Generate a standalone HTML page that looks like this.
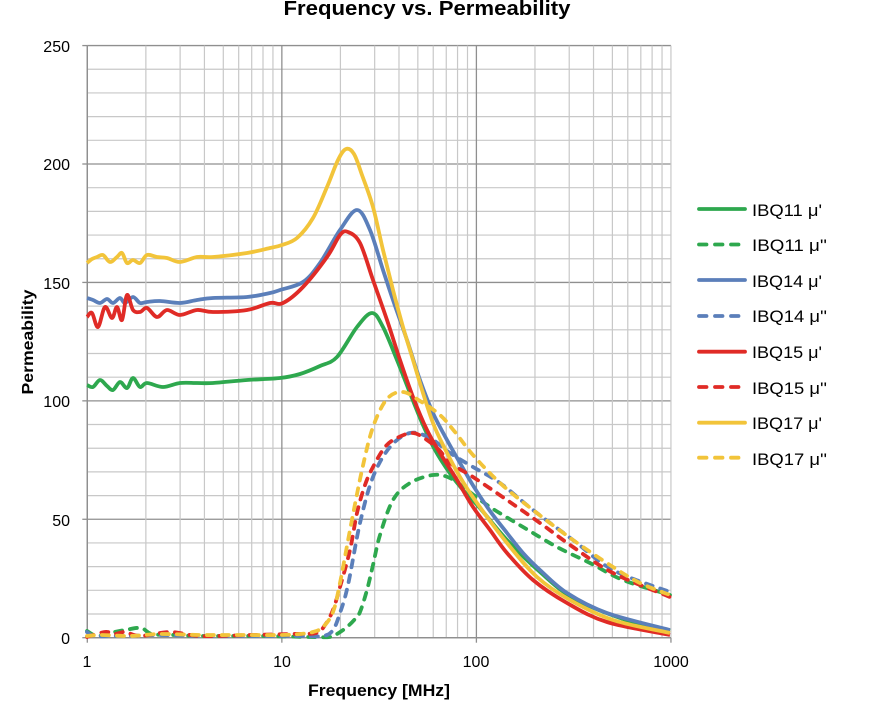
<!DOCTYPE html>
<html><head><meta charset="utf-8">
<style>
html,body{margin:0;padding:0;background:#fff;}
svg{display:block;}
text{font-family:"Liberation Sans",Arial,sans-serif;fill:#000;}
</style></head>
<body>
<svg id="c" width="878" height="705" viewBox="0 0 878 705" xmlns="http://www.w3.org/2000/svg">
<rect width="878" height="705" fill="#fff"/>
<g id="grid"></g>
<g id="series" fill="none" stroke-width="3.8" stroke-linejoin="round"></g>
<text x="427" y="15" text-anchor="middle" font-size="20" font-weight="bold" textLength="287" lengthAdjust="spacingAndGlyphs">Frequency vs. Permeability</text>
<g font-size="16" text-anchor="end">
<text x="70" y="52">250</text>
<text x="70" y="170">200</text>
<text x="70" y="289">150</text>
<text x="70" y="407">100</text>
<text x="70" y="526">50</text>
<text x="70" y="644">0</text>
</g>
<g font-size="16" text-anchor="middle">
<text x="87" y="667">1</text>
<text x="282" y="667">10</text>
<text x="476" y="667">100</text>
<text x="671" y="667">1000</text>
</g>
<text x="379" y="696" text-anchor="middle" font-size="17" font-weight="bold" textLength="142" lengthAdjust="spacingAndGlyphs">Frequency [MHz]</text>
<text transform="translate(33,342) rotate(-90)" text-anchor="middle" font-size="16" font-weight="bold" textLength="105" lengthAdjust="spacingAndGlyphs">Permeability</text>
<g id="legend" stroke-width="3.8" fill="none"></g>
<g font-size="17">
<text x="752" y="216" textLength="70" lengthAdjust="spacingAndGlyphs">IBQ11 μ'</text>
<text x="752" y="251" textLength="75" lengthAdjust="spacingAndGlyphs">IBQ11 μ''</text>
<text x="752" y="287" textLength="70" lengthAdjust="spacingAndGlyphs">IBQ14 μ'</text>
<text x="752" y="322" textLength="75" lengthAdjust="spacingAndGlyphs">IBQ14 μ''</text>
<text x="752" y="358" textLength="70" lengthAdjust="spacingAndGlyphs">IBQ15 μ'</text>
<text x="752" y="394" textLength="75" lengthAdjust="spacingAndGlyphs">IBQ15 μ''</text>
<text x="752" y="429" textLength="70" lengthAdjust="spacingAndGlyphs">IBQ17 μ'</text>
<text x="752" y="465" textLength="75" lengthAdjust="spacingAndGlyphs">IBQ17 μ''</text>
</g>
</svg>
<script>
(function(){
var NS="http://www.w3.org/2000/svg";
function X(f){return 87.3+194.55*Math.log10(f);}
function Y(v){return 637.7-2.3685*v;}
function el(parent,tag,attrs){var e=document.createElementNS(NS,tag);for(var k in attrs)e.setAttribute(k,attrs[k]);parent.appendChild(e);return e;}
var grid=document.getElementById('grid');
var L=X(1),R=X(1000);
for(var k=0;k<=25;k++){
  var y=Y(10*k), major=(k%5===0);
  el(grid,'line',{x1:L,x2:R,y1:y,y2:y,stroke:major?'#8f8f8f':'#c8c8c8','stroke-width':major?1.3:1.2});
}
for(var d=0;d<3;d++){
  for(var m=1;m<=9;m++){
    var x=X(m*Math.pow(10,d)), major=(m===1);
    el(grid,'line',{x1:x,x2:x,y1:Y(250),y2:Y(0),stroke:major?'#8f8f8f':'#c8c8c8','stroke-width':major?1.3:1.2});
  }
}
el(grid,'line',{x1:R,x2:R,y1:Y(250),y2:Y(0),stroke:'#c8c8c8','stroke-width':1.2});
el(grid,'line',{x1:L,x2:R,y1:Y(0),y2:Y(0),stroke:'#8f8f8f','stroke-width':1.4});
el(grid,'line',{x1:L,x2:L,y1:Y(250),y2:Y(0),stroke:'#8f8f8f','stroke-width':1.4});
for(var k=0;k<=5;k++){var y=Y(50*k);el(grid,'line',{x1:L-5,x2:L,y1:y,y2:y,stroke:'#8f8f8f','stroke-width':1.3});}
[1,10,100,1000].forEach(function(f){var x=X(f);el(grid,'line',{x1:x,x2:x,y1:Y(0),y2:Y(0)+5,stroke:'#8f8f8f','stroke-width':1.3});});

function path(p){
  var d='M'+p[0][0]+','+p[0][1];
  for(var i=0;i<p.length-1;i++){
    var p0=p[i-1]||p[i],p1=p[i],p2=p[i+1],p3=p[i+2]||p2,t=1/6;
    var c1x=p1[0]+(p2[0]-p0[0])*t,c1y=p1[1]+(p2[1]-p0[1])*t;
    var c2x=p2[0]-(p3[0]-p1[0])*t,c2y=p2[1]-(p3[1]-p1[1])*t;
    d+='C'+c1x.toFixed(2)+','+c1y.toFixed(2)+' '+c2x.toFixed(2)+','+c2y.toFixed(2)+' '+p2[0]+','+p2[1];
  }
  return d;
}
var G='#2ea84e',B='#5b7fba',Rd='#e02b26',Yl='#f2c43a';
var data=[
 [G,false,[[87,385],[93,387],[100,380],[107,386],[113,390],[120,382],[127,388],[133,378],[140,387],[147,383],[163,387],[180,383],[197,383],[213,383],[247,380],[280,378],[300,374],[320,366],[337,357],[357,327],[372,313],[383,327],[397,360],[410,393],[423,425],[435,450],[449,472],[463,490],[479,507],[507,540],[540,572],[573,598],[623,619],[670,631]]],
 [G,true,[[87,631],[97,636],[110,633],[125,630],[141,628],[152,634],[175,635],[200,636],[260,636],[310,637],[330,637],[337,634],[347,627],[355,619],[360,612],[367,590],[373,565],[380,535],[393,500],[410,483],[433,475],[450,478],[467,490],[490,507],[523,527],[557,547],[590,563],[623,580],[670,595]]],
 [B,false,[[87,298],[93,300],[100,303],[107,299],[113,303],[120,298],[125,303],[133,297],[140,303],[147,302],[160,301],[180,303],[197,300],[213,298],[247,297],[270,293],[280,290],[303,282],[320,263],[340,230],[357,210],[370,230],[383,270],[393,300],[407,340],[420,380],[433,413],[447,440],[460,463],[474,487],[490,511],[507,533],[523,553],[540,570],[567,593],[607,613],[670,630]]],
 [B,true,[[87,632],[95,636],[120,636],[160,635],[200,636],[260,636],[300,636],[323,636],[333,630],[340,613],[348,585],[360,523],[373,477],[390,447],[410,433],[430,438],[450,453],[473,467],[500,483],[533,510],[573,540],[613,570],[670,592]]],
 [Rd,false,[[87,317],[92,313],[98,327],[105,307],[112,318],[117,307],[122,320],[127,295],[133,310],[140,312],[147,308],[157,317],[167,310],[180,315],[197,310],[213,312],[247,310],[270,303],[283,303],[303,287],[327,257],[340,235],[348,232],[360,243],[373,280],[387,320],[400,360],[413,397],[427,430],[440,453],[457,480],[473,507],[490,530],[507,553],[533,580],[567,603],[607,622],[670,635]]],
 [Rd,true,[[87,637],[105,632],[115,634],[125,632],[140,636],[170,632],[200,636],[250,635],[290,634],[316,633],[325,625],[333,610],[340,587],[350,550],[357,513],[365,485],[373,467],[385,447],[397,438],[413,433],[427,440],[440,451],[450,463],[473,477],[507,500],[540,523],[573,547],[613,573],[670,597]]],
 [Yl,false,[[87,263],[92,259],[97,257],[103,255],[110,262],[117,257],[122,253],[127,263],[133,260],[140,263],[147,255],[157,257],[167,258],[180,262],[197,257],[213,257],[247,253],[270,248],[282,245],[297,238],[313,218],[327,187],[338,160],[346,149],[354,154],[362,175],[373,207],[383,250],[393,290],[403,327],[413,360],[423,393],[433,423],[443,445],[460,477],[477,503],[507,543],[537,577],[570,600],[613,620],[670,633]]],
 [Yl,true,[[87,636],[100,635],[130,636],[160,634],[200,635],[240,635],[280,635],[300,634],[313,632],[323,627],[333,612],[340,583],[350,530],[362,470],[373,427],[387,399],[403,392],[420,401],[440,415],[455,432],[473,455],[500,483],[533,510],[573,540],[613,567],[640,583],[670,595]]]
];
var ser=document.getElementById('series');
data.forEach(function(s){
  var a={d:path(s[2]),stroke:s[0]};
  if(s[1]){a['stroke-dasharray']='7 8';a['stroke-linecap']='round';}
  el(ser,'path',a);
});
var leg=document.getElementById('legend');
var rows=[209,244.5,280,316,351.7,387,422.7,457.7];
data.forEach(function(s,i){
  var a={x1:699,x2:745,y1:rows[i],y2:rows[i],stroke:s[0],'stroke-linecap':'round'};
  if(s[1]){a['stroke-dasharray']='7.5 8.5';}
  el(leg,'line',a);
});
})();
</script>
</body></html>
